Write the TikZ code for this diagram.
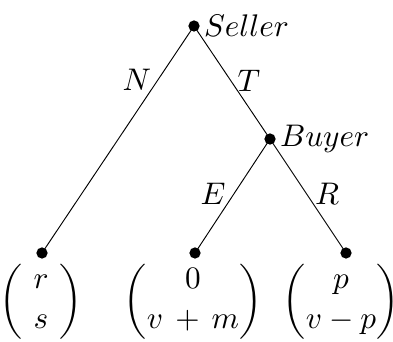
\documentclass[tikz,border=0pt]{standalone}
\usepackage{amsmath,amssymb}
\usepackage{tikz}
\usetikzlibrary{positioning}

\begin{document}
\begin{tikzpicture}[
  x=0.32pt, y=-0.32pt,
  dot/.style={circle, fill=black, inner sep=0, minimum size=3.6pt},
  lbl/.style={font=\normalsize, inner sep=0},
  pay/.style={inner sep=0, anchor=north},
  branch/.style={line width=0.3pt}
]
\useasboundingbox (0,0) rectangle (393,342);
% decision nodes
\node[dot] (seller) at (194,26) {};
\node[dot] (buyer) at (270,139) {};
\node[lbl, anchor=west] at ([xshift=1pt]seller.east) {$Seller$};
\node[lbl, anchor=west] at ([xshift=1pt]buyer.east) {$Buyer$};

% terminal nodes
\node[dot] (t1) at (42,253) {};
\node[dot] (t2) at (195,253) {};
\node[dot] (t3) at (346,253) {};

% branches
\draw[branch] (seller.center) -- (t1.center);
\draw[branch] (seller.center) -- (buyer.center);
\draw[branch] (buyer.center) -- (t2.center);
\draw[branch] (buyer.center) -- (t3.center);
\node[lbl] at (137,80) {$N$};
\node[lbl] at (249,81) {$T$};
\node[lbl] at (213,194) {$E$};
\node[lbl] at (327,194) {$R$};

% payoffs
\node[pay] (p1) at (41,262) {$\left(\begin{array}{@{\hspace{3.6pt}}c@{\hspace{3.6pt}}} r \\[0.8pt] s \end{array}\right)$};
\node[pay] (p2) at (193,262) {$\left(\begin{array}{@{}c@{}} 0 \\[0.8pt] v\mathbin{\,+\,}m \end{array}\right)$};
\node[pay] (p3) at (341,262) {$\left(\begin{array}{@{}c@{}} p \\[0.8pt] v-p \end{array}\right)$};
\end{tikzpicture}
\end{document}
